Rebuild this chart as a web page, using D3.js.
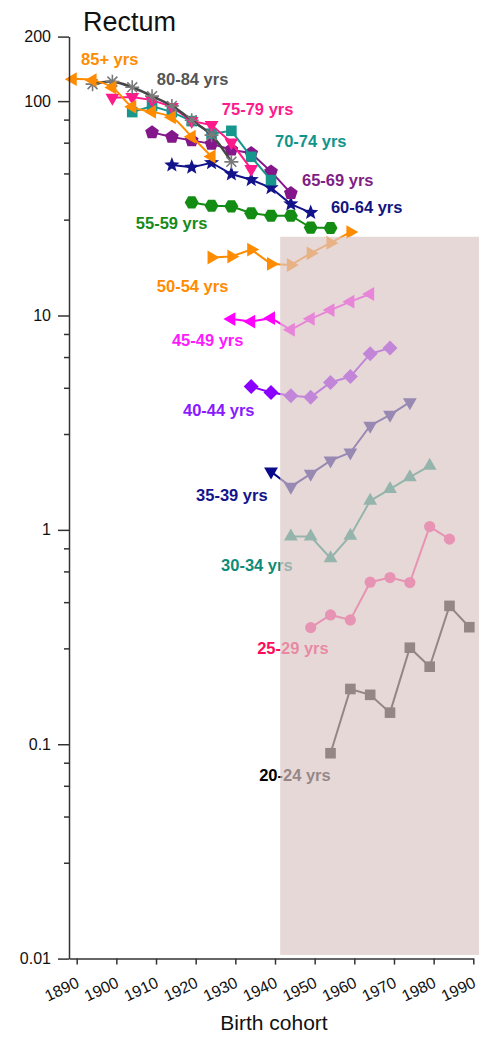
<!DOCTYPE html>
<html>
<head>
<meta charset="utf-8">
<script src="https://cdn.jsdelivr.net/npm/d3@7"></script>
<style>
  html, body { margin: 0; padding: 0; background: #fff; }
  svg { display: block; font-family: "Liberation Sans", Arial, sans-serif; }
</style>
</head>
<body>
<svg id="chart" width="479" height="1037"></svg>
<script>
// Rectal cancer incidence per 100,000 by 5-year age group, plotted by birth cohort
const birthCohorts = [1889, 1894, 1899, 1904, 1909, 1914, 1919, 1924, 1929, 1934, 1939,
                      1944, 1949, 1954, 1959, 1964, 1969, 1974, 1979, 1984, 1989];

const ageGroups = ["85+ yrs", "80-84 yrs", "75-79 yrs", "70-74 yrs", "65-69 yrs", "60-64 yrs",
                   "55-59 yrs", "50-54 yrs", "45-49 yrs", "40-44 yrs", "35-39 yrs", "30-34 yrs",
                   "25-29 yrs", "20-24 yrs"];

// index into birthCohorts of each age group's first cohort
const firstCohort = [0, 1, 2, 3, 4, 5, 6, 7, 8, 9, 10, 11, 12, 13];

const rate85plus = [126.6, 125.3, 115.8, 94.1, 89.2, 84.0, 68.2, 55.2];
const rate80_84  = [120.0, 123.3, 116.0, 105.5, 95.0, 81.5, 69.4, 52.1];
const rate75_79  = [103.8, 104.4, 101.1, 94.0, 80.7, 77.3, 64.1, 48.2];
const rate70_74  = [88.9, 94.8, 88.9, 80.7, 70.5, 72.7, 55.0, 42.8];
const rate65_69  = [71.5, 68.0, 65.6, 63.2, 59.3, 57.1, 46.9, 37.2];
const rate60_64  = [50.3, 49.1, 51.6, 45.7, 43.0, 39.4, 33.1, 30.2];
const rate55_59  = [33.7, 32.5, 32.3, 30.0, 29.2, 29.2, 25.7, 25.6];
const rate50_54  = [18.65, 18.85, 20.3, 17.4, 17.2, 19.5, 21.8, 24.5];
const rate45_49  = [9.62, 9.37, 9.72, 8.58, 9.65, 10.6, 11.6, 12.6];
const rate40_44  = [4.66, 4.37, 4.22, 4.16, 4.87, 5.19, 6.63, 7.05];
const rate35_39  = [1.87, 1.59, 1.825, 2.105, 2.295, 3.06, 3.44, 3.94];
const rate30_34  = [0.931, 0.931, 0.738, 0.94, 1.366, 1.549, 1.762, 1.99];
const rate25_29  = [0.35, 0.401, 0.38, 0.57, 0.599, 0.568, 1.036, 0.905];
const rate20_24  = [0.0908, 0.181, 0.170, 0.1404, 0.282, 0.230, 0.442, 0.3515];

const rates = [rate85plus, rate80_84, rate75_79, rate70_74, rate65_69, rate60_64, rate55_59,
               rate50_54, rate45_49, rate40_44, rate35_39, rate30_34, rate25_29, rate20_24];

const yMajorTicks = [0.01, 0.1, 1, 10, 100, 200];
const yMinorSteps = [2.8, 4.6, 6.4, 8.2];
const yDecades = [0.01, 0.1, 1, 10];
const xTicks = [1890, 1900, 1910, 1920, 1930, 1940, 1950, 1960, 1970, 1980, 1990];

// ---- styling per age group ----
const styles = [
  { color: "#ff8c00", shape: "triLeft", curve: true },
  { color: "#7a7a7a", line: "#474747", label: "#555555", shape: "asterisk", curve: true },
  { color: "#ff1a8c", shape: "triDown" },
  { color: "#16968c", label: "#12948a", shape: "square" },
  { color: "#82168a", label: "#7f1f86", shape: "pentagon" },
  { color: "#12128a", label: "#141480", shape: "star" },
  { color: "#138c13", label: "#178a17", shape: "hexagon" },
  { color: "#ff8c00", shape: "triRight" },
  { color: "#ff00ff", label: "#ff1aff", shape: "triLeft" },
  { color: "#8a00ff", label: "#8a1aff", shape: "diamond" },
  { color: "#0a0a8c", label: "#14148c", shape: "triDown" },
  { color: "#009478", label: "#0f8c78", shape: "triUp" },
  { color: "#ff2a8c", label: "#ff0a5a", shape: "circle" },
  { color: "#000000", label: "#000000", shape: "square" }
];

// label anchor points in (birth year, rate) units
const labelAnchors = [
  [1891.1, 147.2], [1910.2, 118.8], [1926.6, 86.1], [1940.0, 61.0], [1946.8, 40.1],
  [1954.1, 30.0], [1904.9, 25.3], [1910.2, 12.86], [1914.0, 7.2], [1916.8, 3.395],
  [1920.1, 1.362], [1926.4, 0.642], [1935.5, 0.2634], [1936.0, 0.0674]
];

// shaded block of recent cohorts
const shadeFromYear = 1941.3, shadeToYear = 1996, shadeTopRate = 23.3, shadeBottomRate = 0.0104;

const svg = d3.select("#chart");

const x = d3.scaleLinear().domain([1888.06, 1990]).range([69, 473.3]);
const y = d3.scaleLog().domain([0.01, 200]).range([958.6, 36.6]);

// ---- marker shapes ----
function poly(n, r, rot) {
  const pts = [];
  for (let i = 0; i < n; i++) {
    const a = rot + i * 2 * Math.PI / n;
    pts.push([r * Math.cos(a), r * Math.sin(a)]);
  }
  return "M" + pts.map(p => p[0].toFixed(2) + "," + p[1].toFixed(2)).join("L") + "Z";
}
function starPath(ro, ri) {
  const pts = [];
  for (let i = 0; i < 10; i++) {
    const r = i % 2 === 0 ? ro : ri;
    const a = -Math.PI / 2 + i * Math.PI / 5;
    pts.push([r * Math.cos(a), r * Math.sin(a)]);
  }
  return "M" + pts.map(p => p[0].toFixed(2) + "," + p[1].toFixed(2)).join("L") + "Z";
}
function shapePath(kind) {
  switch (kind) {
    case "triUp": return poly(3, 8, -Math.PI / 2);
    case "triDown": return poly(3, 8, Math.PI / 2);
    case "triLeft": return poly(3, 8, Math.PI);
    case "triRight": return poly(3, 8, 0);
    case "square": return "M-5.3,-5.3H5.3V5.3H-5.3Z";
    case "diamond": return poly(4, 7.5, 0);
    case "pentagon": return poly(5, 7.2, -Math.PI / 2);
    case "hexagon": return poly(6, 7, 0);
    case "star": return starPath(8, 3.4);
    case "circle": return d3.symbol(d3.symbolCircle, Math.PI * 5.6 * 5.6)();
    case "asterisk": {
      let d = "";
      for (let i = 0; i < 4; i++) {
        const a = i * Math.PI / 4;
        const dx = 7 * Math.cos(a), dy = 7 * Math.sin(a);
        d += `M${(-dx).toFixed(2)},${(-dy).toFixed(2)}L${dx.toFixed(2)},${dy.toFixed(2)}`;
      }
      return d;
    }
  }
}

// ---- series ----
const series = ageGroups.map((name, i) => ({
  name,
  style: styles[i],
  anchor: labelAnchors[i],
  points: rates[i].map((v, j) => ({ year: birthCohorts[firstCohort[i] + j], v }))
}));

const plot = svg.append("g");
const drawOrder = series.slice().reverse();

drawOrder.forEach(s => {
  const g = plot.append("g");
  const line = d3.line()
    .x(d => x(d.year))
    .y(d => y(d.v))
    .curve(s.style.curve ? d3.curveCatmullRom.alpha(0.5) : d3.curveLinear);
  g.append("path")
    .datum(s.points)
    .attr("d", line)
    .attr("fill", "none")
    .attr("stroke", s.style.line || s.style.color)
    .attr("stroke-width", s.style.line ? 2.6 : 2);
  const isStroke = s.style.shape === "asterisk";
  g.selectAll("path.m")
    .data(s.points)
    .join("path")
    .attr("class", "m")
    .attr("transform", d => `translate(${x(d.year)},${y(d.v)})`)
    .attr("d", shapePath(s.style.shape))
    .attr("fill", isStroke ? "none" : s.style.color)
    .attr("stroke", isStroke ? s.style.color : "none")
    .attr("stroke-width", isStroke ? 1.6 : 0);
});

// ---- age group labels ----
svg.append("g")
  .selectAll("text")
  .data(series)
  .join("text")
  .attr("x", d => x(d.anchor[0]))
  .attr("y", d => y(d.anchor[1]))
  .attr("fill", d => d.style.label || d.style.color)
  .attr("font-size", 16.5)
  .attr("font-weight", "bold")
  .text(d => d.name);

// ---- translucent block over recent cohorts ----
svg.append("rect")
  .attr("x", x(shadeFromYear))
  .attr("y", y(shadeTopRate))
  .attr("width", x(shadeToYear) - x(shadeFromYear))
  .attr("height", y(shadeBottomRate) - y(shadeTopRate))
  .attr("fill", "rgb(220,198,198)")
  .attr("fill-opacity", 0.68);

// ---- axes ----
const axisColor = "#333";

svg.append("g")
  .attr("transform", `translate(${x.range()[0]},0)`)
  .call(d3.axisLeft(y).tickValues(yMajorTicks).tickSize(11).tickSizeOuter(0).tickPadding(7)
    .tickFormat(d => String(d)));
const yMinor = [];
yDecades.forEach(dec => yMinorSteps.forEach(s => yMinor.push(dec * s)));
svg.append("g")
  .attr("transform", `translate(${x.range()[0]},0)`)
  .call(d3.axisLeft(y).tickValues(yMinor).tickSize(5).tickFormat(""))
  .call(g => g.select(".domain").remove());

const xAxis = svg.append("g")
  .attr("transform", `translate(0,${y.range()[0]})`)
  .call(d3.axisBottom(x).tickValues(xTicks).tickSize(6).tickSizeOuter(0).tickFormat(d3.format("d")));

xAxis.selectAll(".tick text")
  .attr("x", null).attr("y", null).attr("dy", null)
  .attr("text-anchor", "end")
  .attr("transform", "translate(3,28) rotate(-25)");

svg.selectAll(".domain, .tick line")
  .attr("stroke", axisColor)
  .attr("stroke-width", 1.5);
svg.selectAll(".tick text")
  .attr("fill", "#111")
  .attr("font-size", 16)
  .attr("font-family", "'Liberation Sans', Arial, sans-serif");

// ---- titles ----
svg.append("text")
  .attr("x", 83).attr("y", 31)
  .attr("font-size", 27)
  .attr("fill", "#111")
  .text("Rectum");

svg.append("text")
  .attr("x", 274).attr("y", 1030)
  .attr("text-anchor", "middle")
  .attr("font-size", 21)
  .attr("fill", "#111")
  .text("Birth cohort");
</script>
</body>
</html>
